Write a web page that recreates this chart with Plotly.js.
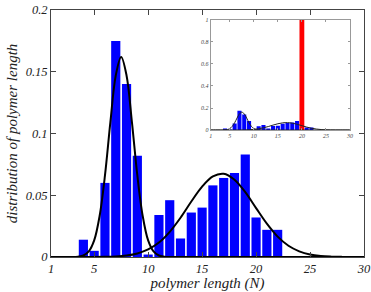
<!DOCTYPE html>
<html><head><meta charset="utf-8">
<script src="https://cdn.plot.ly/plotly-3.0.1.min.js"></script>
<style>html,body{margin:0;padding:0;background:#fff}#chart{width:371px;height:292px}</style>
</head><body><div id="chart"></div>
<script>
// polymer lengths (N) and measured distribution
const lengths = [4,5,6,7,8,9,10,11,12,13,14,15,16,17,18,19,20,21,22];
const distribution = [0.014,0.005,0.060,0.175,0.140,0.082,0.002,0.034,0.046,0.015,0.036,0.040,0.058,0.064,0.068,0.083,0.032,0.022,0.022];
// red marker bar in the inset
const markerLength = [20];
const markerValue = [1];
// first fitted curve
const fit1X = [1,2,3,3.5,4,4.5,5,5.5,6,6.5,7,7.5,8,8.5,9,9.5,10,10.5,11,11.5,12,13,15,20,25,30];
const fit1Y = [0,0,0,0.0003,0.0012,0.0045,0.0134,0.033,0.066,0.109,0.147,0.162,0.147,0.109,0.066,0.033,0.0134,0.0045,0.0012,0.0003,0,0,0,0,0,0];
// second fitted curve
const fit2X = [1,2,3,4,5,6,7,8,9,10,11,12,13,14,15,16,17,18,19,20,21,22,23,24,25,26,27,28,29,30];
const fit2Y = [0,0,0,0.00001,0.00005,0.00016,0.00045,0.0012,0.0029,0.0061,0.0117,0.0204,0.0318,0.0449,0.0570,0.0653,0.0674,0.0626,0.0525,0.0396,0.0270,0.0165,0.0091,0.0046,0.0020,0.0008,0.0003,0.0001,0,0];
// tick labels
const xTicks = [1,5,10,15,20,25,30];
const yTicks = [0,0.05,0.1,0.15,0.2];
const yTickText = ['0','0.05','0.1','0.15','0.2'];
const insetYTicks = [0,0.2,0.4,0.6,0.8,1];
const insetYTickText = ['0','0.2','0.4','0.6','0.8','1'];

const serif = 'Liberation Serif, Times New Roman, serif';
const tf = {family: serif, size: 12.5, color: '#222', style: 'italic'};
const itf = {family: serif, size: 6, color: '#444', style: 'italic'};

const traces = [
  {type:'bar', x: lengths, y: distribution, width: 0.85, marker:{color:'#0000ff'}, xaxis:'x', yaxis:'y', hoverinfo:'skip'},
  {type:'scatter', mode:'lines', x: fit1X, y: fit1Y, line:{color:'#000', width:2, shape:'spline'}, xaxis:'x', yaxis:'y'},
  {type:'scatter', mode:'lines', x: fit2X, y: fit2Y, line:{color:'#000', width:2, shape:'spline'}, xaxis:'x', yaxis:'y'},
  {type:'bar', x: lengths, y: distribution, width: 0.85, marker:{color:'#0000ff'}, xaxis:'x2', yaxis:'y2'},
  {type:'bar', x: markerLength, y: markerValue, width: 1.0, marker:{color:'#ff0000'}, xaxis:'x2', yaxis:'y2'},
  {type:'scatter', mode:'lines', x: fit1X, y: fit1Y, line:{color:'#222', width:1, shape:'spline'}, xaxis:'x2', yaxis:'y2'},
  {type:'scatter', mode:'lines', x: fit2X, y: fit2Y, line:{color:'#222', width:1, shape:'spline'}, xaxis:'x2', yaxis:'y2'}
];

const layout = {
  width: 371, height: 292,
  margin: {l: 51, r: 7, t: 10, b: 35},
  paper_bgcolor: '#fff', plot_bgcolor: '#fff',
  showlegend: false, barmode: 'overlay',
  xaxis: {
    domain: [0,1], range: [1,30], tickvals: xTicks, ticks: 'inside', ticklen: 5, tickcolor: '#444',
    showline: true, mirror: 'ticks', linecolor: '#444', linewidth: 1, showgrid: false, zeroline: false,
    tickfont: tf,
    title: {text: 'polymer length (N)', font: {family: serif, size: 15, color: '#222', style: 'italic'}, standoff: 0}
  },
  yaxis: {
    domain: [0,1], range: [0,0.2], tickvals: yTicks, ticktext: yTickText, ticks: 'inside', ticklen: 5, tickcolor: '#444',
    showline: true, mirror: 'ticks', linecolor: '#444', linewidth: 1, showgrid: false, zeroline: false,
    tickfont: tf,
    title: {text: 'distribution of polymer length', font: {family: serif, size: 15, color: '#222', style: 'italic'}, standoff: 4}
  },
  xaxis2: {
    domain: [0.510, 0.955], anchor: 'y2', range: [1,30], tickvals: xTicks, ticks: 'inside', ticklen: 2, tickcolor: '#999',
    showline: true, mirror: 'ticks', linecolor: '#999', linewidth: 1, showgrid: false, zeroline: false,
    tickfont: itf
  },
  yaxis2: {
    domain: [0.514, 0.96], anchor: 'x2', range: [0,1], tickvals: insetYTicks, ticktext: insetYTickText, ticks: 'inside', ticklen: 2, tickcolor: '#999',
    showline: true, mirror: 'ticks', linecolor: '#999', linewidth: 1, showgrid: false, zeroline: false,
    tickfont: itf
  }
};

Plotly.newPlot('chart', traces, layout, {staticPlot: true, displayModeBar: false});
</script>
</body></html>
